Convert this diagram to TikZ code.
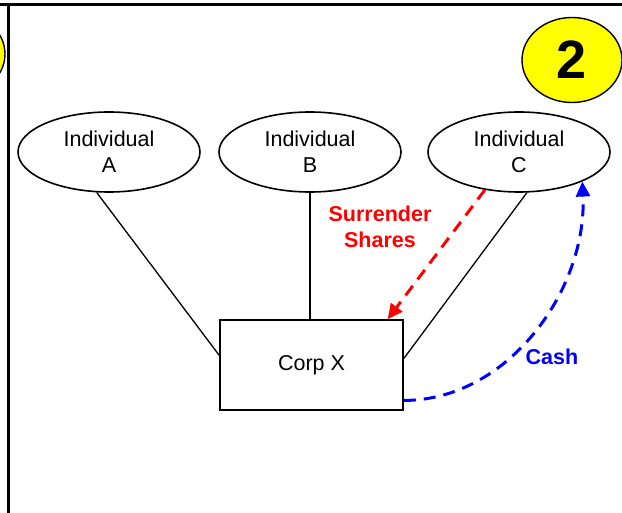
\documentclass[tikz,border=0pt]{standalone}
\usepackage{fontspec}
\setmainfont{Liberation Sans}
\usetikzlibrary{arrows.meta, positioning, shapes.geometric}
\definecolor{cyellow}{HTML}{FFFF00}
\definecolor{cred}{HTML}{FF0000}
\definecolor{cblue}{HTML}{0000FF}
\tikzset{
  every picture/.style={x=1pt, y=-1pt},
  txt/.style={font=\fontsize{21.5}{26}\selectfont},
  person/.style={txt, draw, ellipse, line width=1.6pt, minimum width=182pt, minimum height=80pt, inner sep=0pt, align=center},
  corp/.style={txt, draw, rectangle, line width=1.6pt, minimum width=183pt, minimum height=90pt, inner sep=0pt},
  badge/.style={draw, ellipse, fill=cyellow, line width=1.4pt, minimum width=100pt, minimum height=85pt, inner sep=0pt, font=\fontsize{54}{60}\selectfont\bfseries},
  frame/.style={line width=3pt},
  tie/.style={line width=1.3pt},
  flow/.style={-{Triangle[length=15pt, width=14pt]}, draw=#1, line width=3pt, dash pattern=on 12pt off 8pt},
  flowlabel/.style={txt, font=\fontsize{21.5}{26}\selectfont\bfseries, text=#1, align=center},
}
\begin{document}
\begin{tikzpicture}
  \useasboundingbox (0,0) rectangle (622,513);
  \clip (0,0) rectangle (622,513);
  \draw[frame] (0,5) -- (622,5);
  \draw[frame] (8,5) -- (8,513);
  \node[badge] (one) at (-45,54) {};
  \node[badge] (two) at (572,60) {2};
  \node[person] (A) at (109,152) {Individual\\A};
  \node[person] (B) at (310,152) {Individual\\B};
  \node[person] (C) at (519,152) {Individual\\C};
  \node[corp] (X) at (311.5,365) {Corp X};
  \draw[tie] (A.253) -- (X.174);
  \draw[tie] (B.south) -- (B.south |- X.north);
  \draw[tie] (C.281) -- (X.4);
  \draw[flow=cred] (C.228) -- (X.31);
  \draw[flow=cblue] (X.-21) .. controls +(105,0) and +(5,107) .. (C.-25);
  \node[flowlabel=cred] (shares) at (380,227) {Surrender\\Shares};
  \node[flowlabel=cblue] (cash) at (552,357) {Cash};
\end{tikzpicture}
\end{document}
